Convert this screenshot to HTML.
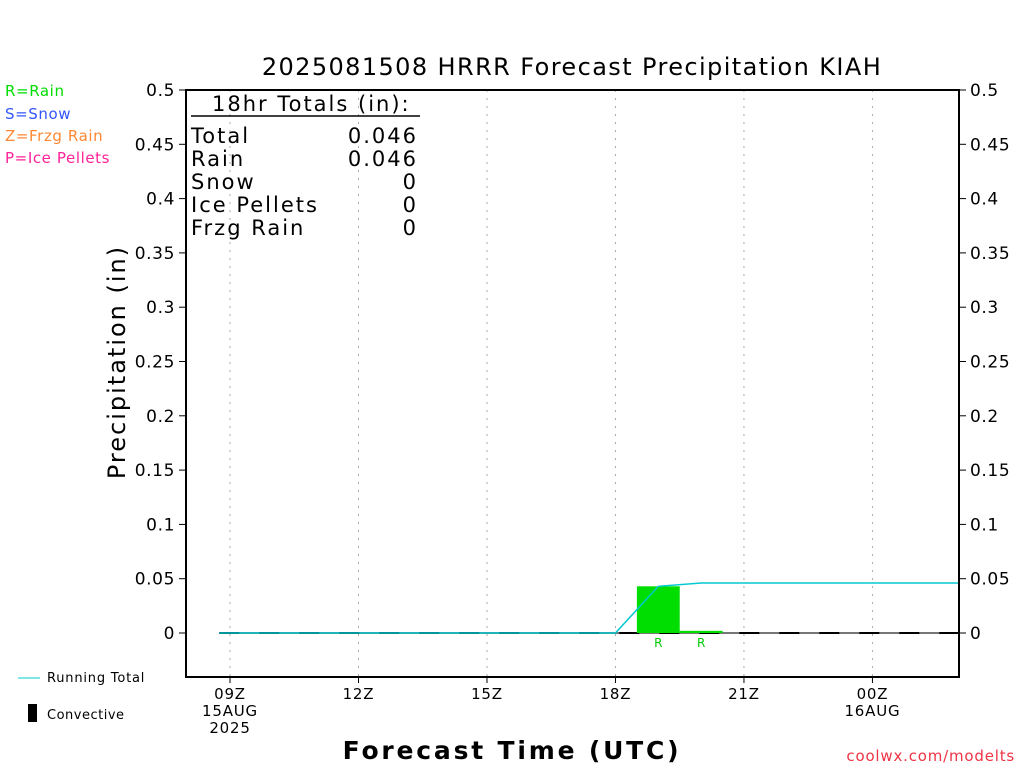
<!DOCTYPE html>
<html><head><meta charset="utf-8"><style>
body{margin:0;background:#fff;width:1024px;height:768px;overflow:hidden}
svg text{font-family:"DejaVu Sans","Liberation Sans",sans-serif}
</style></head><body>
<svg id="c" width="1024" height="768" xmlns="http://www.w3.org/2000/svg">
<text x="572" y="75" font-size="24" letter-spacing="1.4" text-anchor="middle">2025081508 HRRR Forecast Precipitation KIAH</text>
<g font-size="15" letter-spacing="0.6">
<text x="5" y="96" fill="#00dd00">R=Rain</text>
<text x="5" y="119" fill="#3355ff">S=Snow</text>
<text x="5" y="141" fill="#ff8833">Z=Frzg Rain</text>
<text x="5" y="163" fill="#ff2299">P=Ice Pellets</text>
</g>
<line x1="18" y1="678" x2="40" y2="678" stroke="#00cccc"/>
<text x="47" y="682" font-size="13" letter-spacing="0.8">Running Total</text>
<rect x="28" y="704" width="9" height="18" fill="#000"/>
<text x="47" y="719" font-size="13" letter-spacing="0.5">Convective</text>
<text x="125" y="362" font-size="24" letter-spacing="2" font-weight="500" transform="rotate(-90 125 362)" text-anchor="middle">Precipitation (in)</text>
<text x="512" y="759" font-size="25" letter-spacing="2.8" font-weight="bold" text-anchor="middle">Forecast Time (UTC)</text>
<text x="1015" y="761" font-size="15" letter-spacing="0.8" fill="#ee3344" text-anchor="end">coolwx.com/modelts</text>
<g id="grid"></g><g id="marks"></g>
<rect x="186" y="90" width="773" height="587" fill="none" stroke="#000" stroke-width="2"/>
<g id="ticks"></g>
<g font-size="21" letter-spacing="2">
<text x="212" y="111">18hr Totals (in):</text>
<line x1="191" y1="116" x2="420" y2="116" stroke="#000" stroke-width="1.5"/>
<text x="191" y="143">Total</text><text x="418" y="143" text-anchor="end">0.046</text>
<text x="191" y="166">Rain</text><text x="418" y="166" text-anchor="end">0.046</text>
<text x="191" y="189">Snow</text><text x="418" y="189" text-anchor="end">0</text>
<text x="191" y="212">Ice Pellets</text><text x="418" y="212" text-anchor="end">0</text>
<text x="191" y="235">Frzg Rain</text><text x="418" y="235" text-anchor="end">0</text>
</g>
</svg>
<script>
const yTicks=[0,0.05,0.1,0.15,0.2,0.25,0.3,0.35,0.4,0.45,0.5];
const yTickLabels=["0","0.05","0.1","0.15","0.2","0.25","0.3","0.35","0.4","0.45","0.5"];
const xTickHours=[9,12,15,18,21,24];
const xTickLabels=[["09Z","15AUG","2025"],["12Z"],["15Z"],["18Z"],["21Z"],["00Z","16AUG"]];
const barHours=[19,20];
const barValues=[0.043,0.002];
const barTypes=["R","R"];
const runHours=[8.75,18,19,20,26];
const runValues=[0,0,0.043,0.046,0.046];
const NS="http://www.w3.org/2000/svg";
const X=h=>230+(h-9)*42.83, Y=v=>633-v*1086;
function mk(p,t,a){const e=document.createElementNS(NS,t);for(const k in a)e.setAttribute(k,a[k]);p.appendChild(e);return e;}
const grid=document.getElementById('grid'),ticks=document.getElementById('ticks'),marks=document.getElementById('marks');
xTickHours.forEach((h,i)=>{
 const g=mk(grid,'line',{x1:X(h),x2:X(h),y1:90,y2:677,stroke:'#aaa','stroke-dasharray':'2,6'});
 
 
 mk(ticks,'line',{x1:X(h),x2:X(h),y1:677,y2:683,stroke:'#000'});
 xTickLabels[i].forEach((s,j)=>{const t=mk(ticks,'text',{x:X(h),y:699+j*17,'font-size':15,'letter-spacing':0.8,'text-anchor':'middle'});t.textContent=s;
 
 });
});
yTicks.forEach((v,i)=>{
 mk(ticks,'line',{x1:179,x2:186,y1:Y(v),y2:Y(v),stroke:'#000'});
 mk(ticks,'line',{x1:959,x2:966,y1:Y(v),y2:Y(v),stroke:'#000'});
 const a=mk(ticks,'text',{x:175,y:Y(v)+6,'font-size':17,'letter-spacing':0.6,'text-anchor':'end'});a.textContent=yTickLabels[i];
 
 
 const b=mk(ticks,'text',{x:970,y:Y(v)+6,'font-size':17,'letter-spacing':0.6});b.textContent=yTickLabels[i];
 
 
});
const z0=mk(marks,'line',{x1:X(8.75),x2:959,y1:Y(0),y2:Y(0),stroke:'#777','stroke-width':2});


const z=mk(marks,'line',{x1:X(8.75),x2:959,y1:Y(0),y2:Y(0),stroke:'#000','stroke-width':2,'stroke-dasharray':'20,20'});


barHours.forEach((h,i)=>{
 const r=mk(marks,'rect',{x:X(h-0.5),y:Y(barValues[i]),width:42.83,height:Y(0)-Y(barValues[i]),fill:'#00dd00'});
 
 
 const t=mk(marks,'text',{x:X(h),y:647,'font-size':12,fill:'#00cc00','text-anchor':'middle'});t.textContent=barTypes[i];
 
 
});
const pts=runHours.map((h,i)=>Math.min(X(h),959)+','+Y(runValues[i])).join(' ');
const pl=mk(marks,'polyline',{points:pts,fill:'none',stroke:'#00c8d0','stroke-width':1.5});


</script>
</body></html>
